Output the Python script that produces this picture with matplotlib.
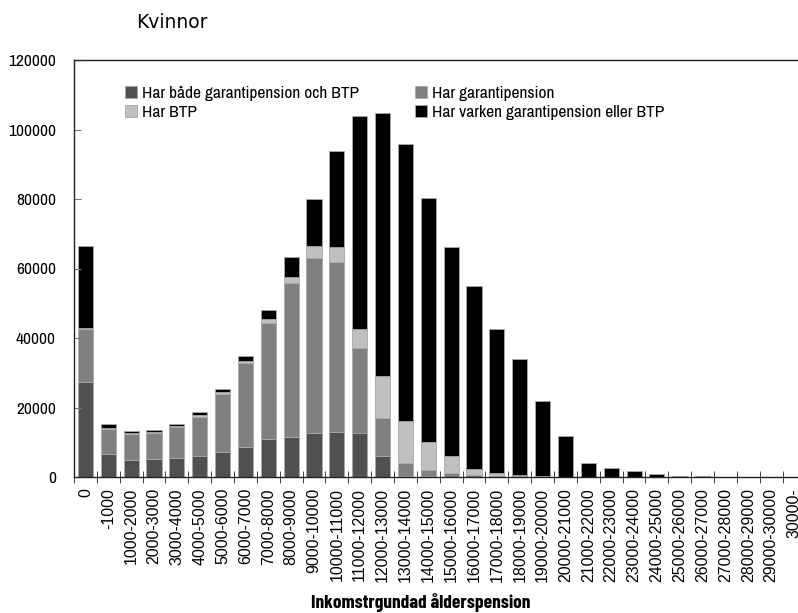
import numpy as np
import matplotlib
matplotlib.use("Agg")
import matplotlib.pyplot as plt

# income classes (kr/month)
categories = ["0", "-1000"] + [f"{a}-{a + 1000}" for a in range(1000, 30000, 1000)] + ["30000-"]

# number of women per class, by pension type
both = [27400, 6500, 4800, 5100, 5600, 6000, 7200, 8600, 10800, 11500,
        12700, 13000, 12700, 6000, 400, 200, 100, 50, 30, 20,
        10, 0, 0, 0, 0, 0, 0, 0, 0, 0, 0, 0]
garanti = [15300, 7400, 7700, 7600, 8700, 11300, 16800, 24200, 33400, 44200,
           50400, 49000, 24500, 11000, 3500, 1900, 1000, 600, 350, 250,
           150, 50, 0, 0, 0, 0, 0, 0, 0, 0, 0, 0]
btp = [300, 200, 100, 150, 250, 400, 500, 500, 1200, 1900,
       3500, 4300, 5400, 12000, 12200, 8100, 4900, 1700, 700, 250,
       100, 50, 0, 0, 0, 0, 0, 0, 0, 0, 0, 0]
neither = [23500, 1100, 600, 600, 800, 900, 800, 1400, 2800, 5800,
           13400, 27400, 61300, 75700, 79700, 70000, 60200, 52700, 41500, 33300,
           21600, 11700, 4150, 2500, 1700, 850, 400, 150, 60, 40, 25, 15]

series = [
    ("Har både garantipension och BTP", both, "#505050"),
    ("Har garantipension", garanti, "#808080"),
    ("Har BTP", btp, "#c0c0c0"),
    ("Har varken garantipension eller BTP", neither, "#000000"),
]

narrow = ["Archivo Narrow", "DejaVu Sans"]

fig = plt.figure(figsize=(7.98, 6.13), dpi=100)
ax = fig.add_axes([74 / 798, 136 / 613, 731.5 / 798, 417 / 613])

x = np.arange(len(categories))
bottom = np.zeros(len(categories))
handles = {}
for name, vals, col in series:
    vals = np.array(vals, dtype=float)
    handles[name] = ax.bar(x, vals, 0.66, bottom=bottom, color=col,
                           edgecolor="#a8a8a8", linewidth=0.6, label=name)
    bottom += vals

ax.set_xlim(-0.5, len(categories) - 0.5)
ax.set_ylim(0, 120000)
ax.set_yticks(np.arange(0, 120001, 20000))
ax.set_yticklabels([str(v) for v in range(0, 120001, 20000)], family=narrow, fontsize=12.5)
ax.tick_params(axis="y", direction="in", length=5, color="#777777", pad=13)

ax.set_xticks(x)
ax.set_xticklabels(categories, rotation=90, family="Liberation Sans", fontsize=11.5)
ax.tick_params(axis="x", which="major", length=0, pad=8)
ax.set_xticks(np.arange(-0.5, len(categories), 1), minor=True)
ax.tick_params(axis="x", which="minor", direction="inout", length=8, color="#222222")

for s in ax.spines.values():
    s.set_color("#222222")
    s.set_linewidth(1.0)

order = ["Har både garantipension och BTP", "Har BTP",
         "Har garantipension", "Har varken garantipension eller BTP"]
fig.legend([handles[n] for n in order], order, ncol=2, frameon=False,
           loc="upper left", bbox_to_anchor=(125 / 798, 1 - 86 / 613),
           borderpad=0, borderaxespad=0, handlelength=0.7, handleheight=0.7,
           handletextpad=0.3, columnspacing=3.2, labelspacing=0.2,
           prop={"family": narrow, "size": 12.5})

fig.text(136 / 798, 1 - 22 / 613, "Kvinnor", fontsize=13.5, family="DejaVu Sans",
         ha="left", va="center")
fig.text(421 / 798, 1 - 603 / 613, "Inkomstrgundad ålderspension", fontsize=14,
         fontweight="bold", family=["Barlow Condensed", "DejaVu Sans"],
         ha="center", va="center")

fig.savefig("out.png", dpi=100)
